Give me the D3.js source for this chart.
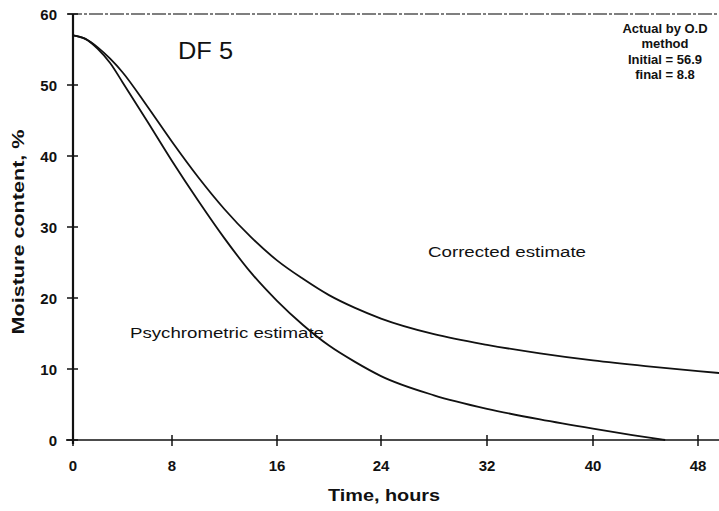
<!DOCTYPE html>
<html><head><meta charset="utf-8">
<script src="https://cdn.jsdelivr.net/npm/d3@7"></script>
<style>body{margin:0;background:#fff}svg{display:block}text{font-family:"Liberation Sans",Arial,sans-serif;fill:#111}</style>
</head><body><svg id="c" width="719" height="511"></svg>
<script>
const xTicks = [0, 8, 16, 24, 32, 40, 48];
const yTicks = [0, 10, 20, 30, 40, 50, 60];
const correctedT = [0, 1, 2, 3, 4, 6, 8, 10, 12, 14, 16, 18, 20, 22, 24, 28, 32, 36, 40, 44, 48, 49.8];
const correctedV = [57, 56.5, 55.3, 53.7, 51.8, 47.0, 42.0, 37.0, 32.5, 28.6, 25.3, 22.7, 20.4, 18.6, 17.1, 14.9, 13.4, 12.2, 11.2, 10.4, 9.7, 9.4];
const psychroT = [0, 1, 2, 3, 4, 6, 8, 10, 12, 14, 16, 18, 20, 22, 24, 28, 32, 36, 40, 43, 45.5];
const psychroV = [57, 56.5, 55.1, 53.1, 50.4, 44.9, 39.3, 33.7, 28.4, 23.6, 19.6, 16.2, 13.3, 11.0, 9.0, 6.3, 4.4, 2.9, 1.6, 0.7, 0];
const annotLines = ["Actual by O.D", "method", "Initial = 56.9", "final = 8.8"];

const svg = d3.select("#c");
const x = d3.scaleLinear().domain(xTicks).range([73, 172, 277, 381, 487, 593, 698]);
const y = d3.scaleLinear().domain([0, 60]).range([440, 14]);
const xEnd = 719;

// top dashed border
svg.append("line").attr("x1", 68).attr("x2", xEnd).attr("y1", y(60)).attr("y2", y(60))
  .attr("stroke", "#555").attr("stroke-width", 1.3).attr("stroke-dasharray", "14,2,3,2");

// x axis line
svg.append("line").attr("x1", 66).attr("x2", xEnd).attr("y1", y(0)).attr("y2", y(0))
  .attr("stroke", "#111").attr("stroke-width", 1.5);
// y axis line
svg.append("line").attr("x1", x(0)).attr("x2", x(0)).attr("y1", y(60)).attr("y2", y(0) + 4)
  .attr("stroke", "#111").attr("stroke-width", 2.2);

// x ticks (cross style)
const xa = svg.append("g");
xTicks.forEach(t => {
  xa.append("line").attr("x1", x(t)).attr("x2", x(t)).attr("y1", y(0) - 5).attr("y2", y(0) + 6)
    .attr("stroke", "#111").attr("stroke-width", 1.5);
  xa.append("text").attr("x", x(t)).attr("y", 471).attr("text-anchor", "middle")
    .attr("font-size", 15).attr("font-weight", "bold").text(t);
});
// y ticks
const ya = svg.append("g");
yTicks.forEach(v => {
  ya.append("line").attr("x1", x(0) - 6).attr("x2", x(0) + 5).attr("y1", y(v)).attr("y2", y(v))
    .attr("stroke", "#111").attr("stroke-width", 1.5);
  ya.append("text").attr("x", 57).attr("y", y(v) + 5.5).attr("text-anchor", "end")
    .attr("font-size", 15).attr("font-weight", "bold").text(v);
});

const line = d3.line().x(d => x(d[0])).y(d => y(d[1])).curve(d3.curveMonotoneX);
svg.append("path").datum(correctedT.map((t, i) => [t, correctedV[i]])).attr("d", line)
  .attr("fill", "none").attr("stroke", "#111").attr("stroke-width", 1.8);
svg.append("path").datum(psychroT.map((t, i) => [t, psychroV[i]])).attr("d", line)
  .attr("fill", "none").attr("stroke", "#111").attr("stroke-width", 1.8);

// labels
svg.append("text").attr("x", 178).attr("y", 59).attr("font-size", 23).attr("textLength", 55)
  .attr("lengthAdjust", "spacingAndGlyphs").text("DF 5");
svg.append("text").attr("x", 428).attr("y", 257).attr("font-size", 14).attr("textLength", 158)
  .attr("lengthAdjust", "spacingAndGlyphs").text("Corrected estimate");
svg.append("text").attr("x", 130).attr("y", 338).attr("font-size", 14).attr("textLength", 194)
  .attr("lengthAdjust", "spacingAndGlyphs").text("Psychrometric estimate");
annotLines.forEach((s, i) => {
  svg.append("text").attr("x", 665).attr("y", 33 + i * 15.3).attr("text-anchor", "middle")
    .attr("font-size", 13).attr("font-weight", "bold").text(s);
});

svg.append("text").attr("x", 384).attr("y", 501).attr("text-anchor", "middle")
  .attr("font-size", 16).attr("font-weight", "bold").attr("textLength", 112)
  .attr("lengthAdjust", "spacingAndGlyphs").text("Time, hours");
svg.append("text").attr("transform", "translate(24,232) rotate(-90)").attr("text-anchor", "middle")
  .attr("font-size", 17).attr("font-weight", "bold").attr("textLength", 205)
  .attr("lengthAdjust", "spacingAndGlyphs").text("Moisture content, %");
</script></body></html>
